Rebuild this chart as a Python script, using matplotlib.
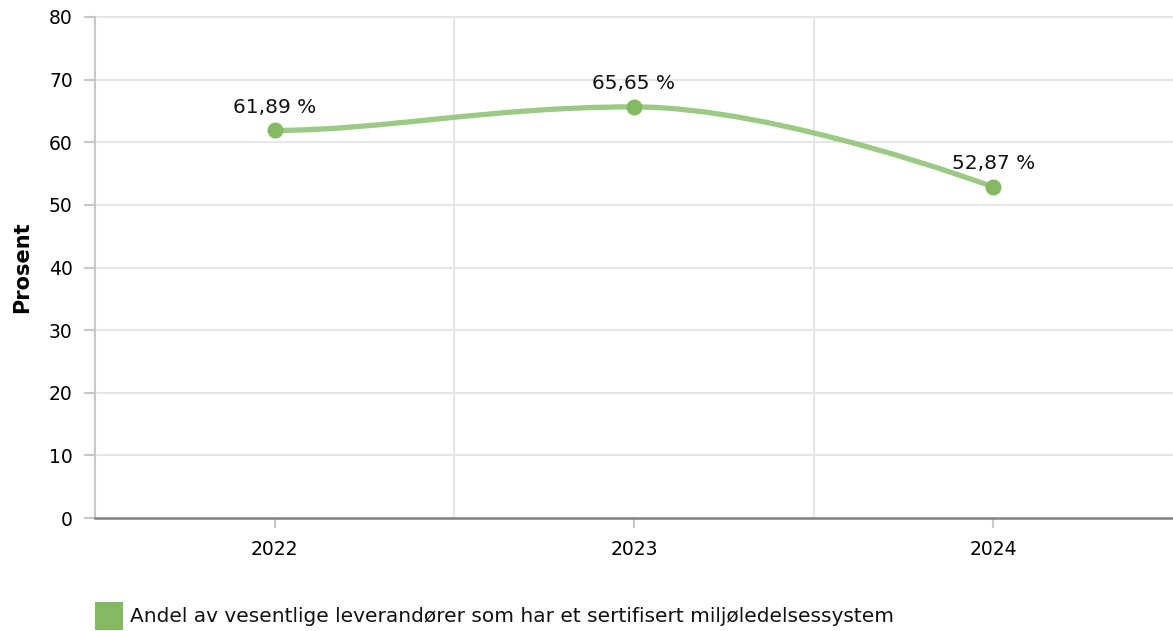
import matplotlib
matplotlib.use("Agg")
import matplotlib.pyplot as plt
from matplotlib.path import Path
from matplotlib.patches import PathPatch, Rectangle

plt.rcParams["font.family"] = ["DejaVu Sans"]

years = ["2022", "2023", "2024"]
values = [61.89, 65.65, 52.87]
labels = ["61,89 %", "65,65 %", "52,87 %"]
series_name = "Andel av vesentlige leverandører som har et sertifisert miljøledelsessystem"

line_color = "#9cc985"
marker_color = "#84b862"


def spline_path(xs, ys, smoothing=1.5, start_handle=0.3):
    # spline control points, roughly like highcharts getPointSpline
    denom = smoothing + 1
    left = [None] * len(xs)
    right = [None] * len(xs)
    for i in range(1, len(xs) - 1):
        lx = (smoothing * xs[i] + xs[i - 1]) / denom
        ly = (smoothing * ys[i] + ys[i - 1]) / denom
        rx = (smoothing * xs[i] + xs[i + 1]) / denom
        ry = (smoothing * ys[i] + ys[i + 1]) / denom
        corr = ((ry - ly) * (rx - xs[i])) / (rx - lx) + ys[i] - ry
        ly += corr
        ry += corr
        if ly > ys[i - 1] and ly > ys[i]:
            ly = max(ys[i - 1], ys[i])
            ry = 2 * ys[i] - ly
        elif ly < ys[i - 1] and ly < ys[i]:
            ly = min(ys[i - 1], ys[i])
            ry = 2 * ys[i] - ly
        if ry > ys[i + 1] and ry > ys[i]:
            ry = max(ys[i + 1], ys[i])
            ly = 2 * ys[i] - ry
        elif ry < ys[i + 1] and ry < ys[i]:
            ry = min(ys[i + 1], ys[i])
            ly = 2 * ys[i] - ry
        left[i] = (lx, ly)
        right[i] = (rx, ry)
    # first point leaves horizontally
    right[0] = (xs[0] + start_handle * (xs[1] - xs[0]), ys[0])
    verts = [(xs[0], ys[0])]
    codes = [Path.MOVETO]
    for i in range(1, len(xs)):
        c1 = right[i - 1] or (xs[i - 1], ys[i - 1])
        c2 = left[i] or (xs[i], ys[i])
        verts += [c1, c2, (xs[i], ys[i])]
        codes += [Path.CURVE4] * 3
    return Path(verts, codes)


W, H = 1173, 631
fig = plt.figure(figsize=(W / 100, H / 100), dpi=100)
ax = fig.add_axes([95 / W, (H - 518) / H, (W - 95) / W, (518 - 17) / H])

x = list(range(len(years)))
ax.set_xlim(-0.5, len(years) - 0.5)
ax.set_ylim(0, 80)
ax.set_yticks(range(0, 81, 10))
ax.set_xticks(x)
ax.set_xticklabels(years)

# grid: horizontal at ticks, vertical at category borders
for yv in range(10, 81, 10):
    ax.axhline(yv, color="#e6e6e6", lw=1.5, zorder=0, clip_on=False)
for xv in [0.5, 1.5]:
    ax.axvline(xv, color="#e6e6e6", lw=1.5, zorder=0)

for s in ["top", "right"]:
    ax.spines[s].set_visible(False)
ax.spines["left"].set_color("#c8c8c8")
ax.spines["left"].set_linewidth(1.5)
ax.spines["bottom"].set_color("#808080")
ax.spines["bottom"].set_linewidth(1.8)

ax.tick_params(axis="y", length=8, width=1.5, color="#c8c8c8", pad=8, labelsize=13.5)
ax.tick_params(axis="x", length=7, width=1.5, color="#c8c8c8", pad=9, labelsize=13.5)

ax.add_patch(PathPatch(spline_path(x, values), fill=False, edgecolor=line_color,
                       lw=3.8, capstyle="round", joinstyle="round", zorder=3))
ax.plot(x, values, "o", color=marker_color, markersize=10.5, zorder=4, clip_on=False)

for xi, v, lab in zip(x, values, labels):
    ax.annotate(lab, (xi, v), xytext=(0, 10), textcoords="offset points",
                ha="center", va="bottom", fontsize=14.5, color="#111111")

ax.set_ylabel("Prosent", fontsize=15, fontweight="bold")
ax.yaxis.set_label_coords(-63 / (W - 95), 0.5)

# legend at the bottom
fig.add_artist(Rectangle((95 / W, (H - 630) / H), 28 / W, 28 / H,
                         transform=fig.transFigure, color="#84b862", lw=0))
fig.text(130 / W, (H - 616) / H, series_name, fontsize=14.5, va="center", ha="left",
         color="#111111")

fig.savefig("out.png", dpi=100)
